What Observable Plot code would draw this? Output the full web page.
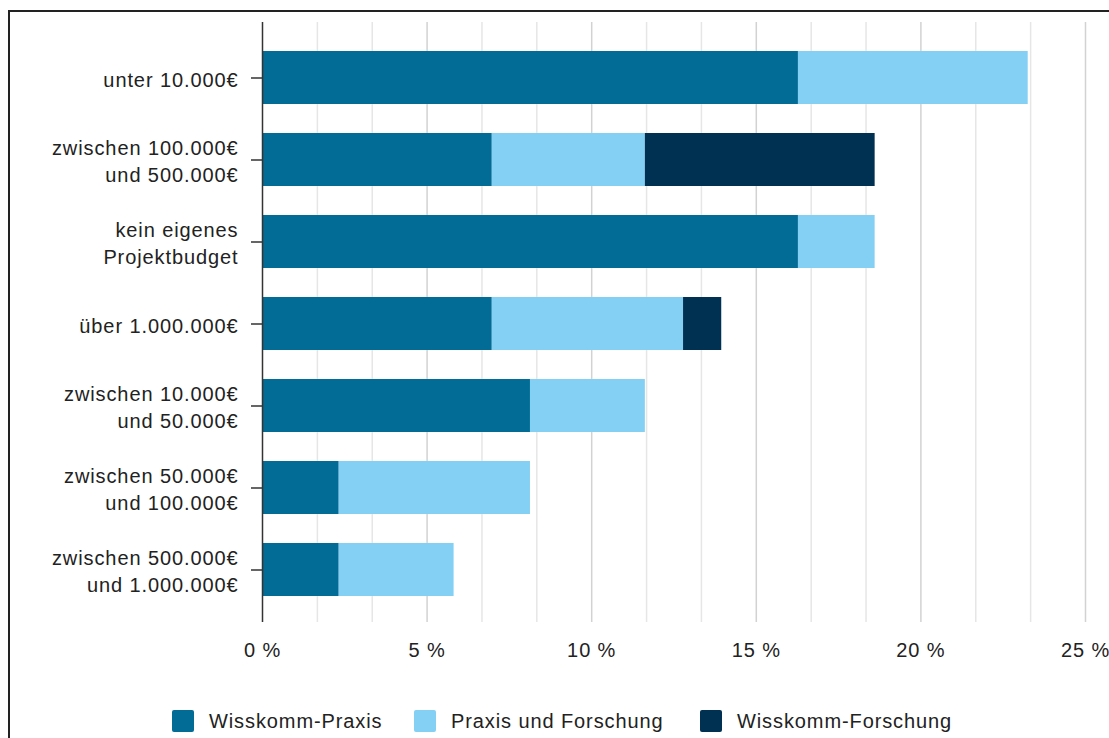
<!DOCTYPE html>
<html>
<head>
<meta charset="utf-8">
<script src="https://cdn.jsdelivr.net/npm/d3@7"></script>
<script src="https://cdn.jsdelivr.net/npm/@observablehq/plot@0.6"></script>
<style>
  html, body { margin: 0; padding: 0; background: #fff; overflow: hidden; width: 1109px; height: 738px; }
  #frame { position: absolute; left: 8px; top: 10px; width: 1200px; height: 800px; border: 2px solid #222; box-sizing: border-box; }
  #chart { position: absolute; left: 0; top: 0; }
  #legend { position: absolute; top: 710px; left: 0; height: 22px; font-family: Arial, "Liberation Sans", Helvetica, sans-serif; font-size: 20px; letter-spacing: 0.9px; color: #222; }
  .item { position: absolute; top: 0; display: flex; align-items: center; white-space: nowrap; height: 22px; }
  .sw { width: 22px; height: 22px; border-radius: 2px; margin-right: 15px; flex: none; }
</style>
</head>
<body>
<div id="frame"></div>
<div id="chart"></div>
<div id="legend"></div>
<script>
const categories = [
  "unter 10.000€",
  "zwischen 100.000€\nund 500.000€",
  "kein eigenes\nProjektbudget",
  "über 1.000.000€",
  "zwischen 10.000€\nund 50.000€",
  "zwischen 50.000€\nund 100.000€",
  "zwischen 500.000€\nund 1.000.000€"
];
const seriesNames = ["Wisskomm-Praxis", "Praxis und Forschung", "Wisskomm-Forschung"];
const seriesColors = ["#026b96", "#84d0f5", "#003152"];
const wisskommPraxis     = [16.28, 6.98, 16.28, 6.98, 8.14, 2.33, 2.33];
const praxisUndForschung = [6.98, 4.65, 2.33, 5.81, 3.49, 5.81, 3.49];
const wisskommForschung  = [0, 6.98, 0, 1.16, 0, 0, 0];
const xTicks = [0, 5, 10, 15, 20, 25];
const gridMinor = [1.667, 3.333, 6.667, 8.333, 11.667, 13.333, 16.667, 18.333, 21.667, 23.333];
const gridMajor = [5, 10, 15, 20, 25];

const seriesValues = [wisskommPraxis, praxisUndForschung, wisskommForschung];
const rows = [];
seriesNames.forEach((s, si) => {
  categories.forEach((c, ci) => {
    rows.push({category: c, series: s, value: seriesValues[si][ci]});
  });
});

const chart = Plot.plot({
  width: 1109,
  height: 664,
  marginTop: 22,
  marginBottom: 42,
  marginLeft: 262,
  marginRight: 24,
  style: {fontFamily: "Arial, 'Liberation Sans', Helvetica, sans-serif", fontSize: "20px", color: "#222", letterSpacing: "0.9px", background: "transparent"},
  x: {domain: [0, 25], axis: null},
  y: {domain: categories, paddingInner: 0.354, paddingOuter: 0.335, align: 0.52, axis: null},
  color: {domain: seriesNames, range: seriesColors},
  marks: [
    Plot.ruleX(gridMinor, {stroke: "#e6e6e6", strokeWidth: 1.5}),
    Plot.ruleX(gridMajor, {stroke: "#d2d2d2", strokeWidth: 1.5}),
    Plot.barX(rows, {x: "value", y: "category", fill: "series", order: seriesNames}),
    Plot.ruleX([0], {stroke: "#333", strokeWidth: 1.5}),
    Plot.axisY({tickSize: 11, tickPadding: 13, fontSize: 20, lineHeight: 1.35, stroke: "#333", strokeWidth: 1.5, label: null, tickFormat: d => d}),
    Plot.axisX({ticks: xTicks, tickSize: 0, tickPadding: 20, fontSize: 20, label: null, tickFormat: d => `${d} %`})
  ]
});
document.getElementById("chart").appendChild(chart);

const legend = document.getElementById("legend");
const legendX = [172, 414, 700];
seriesNames.forEach((s, i) => {
  const item = document.createElement("div");
  item.className = "item";
  item.style.left = legendX[i] + "px";
  const sw = document.createElement("div");
  sw.className = "sw";
  sw.style.background = seriesColors[i];
  const t = document.createElement("span");
  t.textContent = s;
  item.appendChild(sw);
  item.appendChild(t);
  legend.appendChild(item);
});
</script>
</body>
</html>
